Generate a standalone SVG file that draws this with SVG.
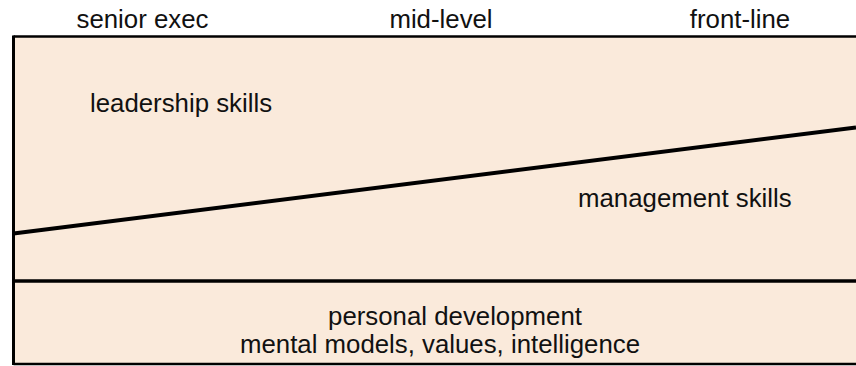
<svg xmlns="http://www.w3.org/2000/svg" width="856" height="366" viewBox="0 0 856 366">
  <style>
    text { font-family: "Liberation Sans", Arial, sans-serif; font-size: 25.8px; fill: #111; }
    .mid { text-anchor: middle; }
    .edge { stroke: #000; fill: none; }
  </style>
  <rect x="0" y="0" width="856" height="366" fill="#fff"/>
  <g id="panel">
    <rect x="13.5" y="36.5" width="843" height="327.5" fill="#FAEADB"/>
    <line class="edge" x1="13.5" y1="36.5" x2="856" y2="36.5" stroke-width="2.5"/>
    <line class="edge" x1="13.5" y1="35.5" x2="13.5" y2="365" stroke-width="3"/>
    <line class="edge" x1="13.5" y1="364" x2="856" y2="364" stroke-width="2.5"/>
  </g>
  <g id="connectors">
    <line class="edge" x1="13.5" y1="233.5" x2="856" y2="127.5" stroke-width="4"/>
    <line class="edge" x1="13.5" y1="281" x2="856" y2="281" stroke-width="3.5"/>
  </g>
  <g id="headers">
    <text class="mid" x="142.5" y="28">senior exec</text>
    <text class="mid" x="441" y="28">mid-level</text>
    <text class="mid" x="740" y="28">front-line</text>
  </g>
  <g id="leadership">
    <text x="90" y="112">leadership skills</text>
  </g>
  <g id="management">
    <text x="578" y="207">management skills</text>
  </g>
  <g id="personal">
    <text class="mid" x="455" y="325">personal development</text>
    <text class="mid" x="440" y="353">mental models, values, intelligence</text>
  </g>
</svg>
